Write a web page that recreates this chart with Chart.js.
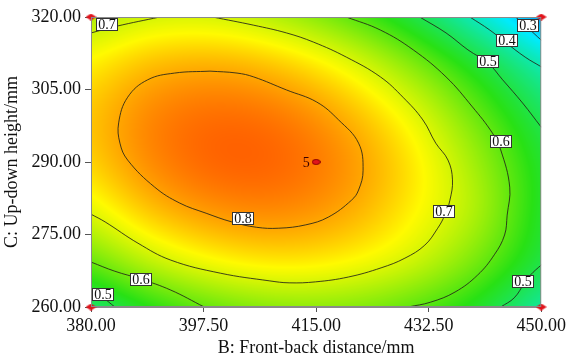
<!DOCTYPE html>
<html>
<head>
<meta charset="utf-8">
<script src="https://cdn.jsdelivr.net/npm/chart.js@4.4.1/dist/chart.umd.min.js"></script>
<style>
  body { margin: 0; background: #fff; }
</style>
</head>
<body>
<canvas id="surfaceCanvas" width="569" height="359"></canvas>
<script>
// response grid (B across, C up)
const bGrid = [380, 390, 400, 410, 420, 430, 440, 450];
const cGrid = [260, 270, 280, 290, 300, 310, 320];
const zRows = [
  [0.468, 0.556, 0.612, 0.638, 0.633, 0.598, 0.532, 0.420], // 260
  [0.613, 0.691, 0.737, 0.753, 0.738, 0.695, 0.618, 0.505], // 270
  [0.712, 0.781, 0.817, 0.823, 0.797, 0.740, 0.660, 0.530], // 280
  [0.767, 0.826, 0.854, 0.850, 0.814, 0.747, 0.649, 0.525], // 290
  [0.777, 0.827, 0.845, 0.832, 0.787, 0.711, 0.603, 0.482], // 300
  [0.743, 0.784, 0.793, 0.770, 0.716, 0.630, 0.520, 0.395], // 310
  [0.665, 0.699, 0.699, 0.664, 0.600, 0.506, 0.379, 0.235]  // 320
];

const xTicks = [380, 397.5, 415, 432.5, 450];
const yTicks = [260, 275, 290, 305, 320];

// contour lines, [B, C]
const c03 = [[446.0,320],[447.8,317.9],[450,315.2]];
const c04 = [[438.9,320],[442.0,317.3],[444.4,314.8],[447.5,311.7],[450,309.7]];
const c05top = [[431.1,320],[435.2,316.7],[438.6,313.2],[441.7,310.5],[444.0,307.0],[447.1,302.2],[450,297.2]];
const c05right = [[450,268.7],[448.3,266.6],[447.4,265.0],[445.8,261.9],[443.7,260]];
const c05left = [[380,263.5],[381.9,261.9],[383.7,260]];
const c06right = [[419.7,320],[425.0,317.3],[430.1,313.2],[435.2,307.6],[439.3,301.4],[442.4,296.0],[443.7,292.5],
  [445.1,284.8],[444.7,279.0],[444.3,274.9],[442.7,270.8],[440.1,266.6],[436.6,263.1],[432.8,261.0],[429.3,260]];
const c06left = [[380,269.3],[383.7,267.4],[387.7,265.8],[392.4,263.5],[397.6,260]];
const c07corner = [[380,316.7],[384.0,318.1],[390.7,320]];
const c07main = [[398.9,320],[405.3,318.3],[410.4,316.7],[414.6,314.8],[419.7,311.7],[425.0,307.6],[428.5,303.4],
  [431.6,298.7],[433.6,293.9],[435.5,290.4],[436.2,286.3],[435.8,282.1],[435.0,279.0],[433.9,276.3],[431.9,272.8],
  [428.8,270.1],[425.1,268.1],[420.0,266.2],[414.9,265.2],[410.8,265.0],[407.8,265.4],[400.1,267.0],[392.4,269.7],
  [387.3,273.2],[382.2,277.6],[380,279.2]];
const c08 = [[398.5,308.8],[402.7,308.4],[405.3,307.6],[410.4,304.9],[415.1,302.4],[418.5,298.7],[421.6,293.9],
  [422.3,288.3],[421.6,284.2],[420.5,282.1],[416.9,278.6],[413.4,277.0],[409.2,276.3],[405.7,276.5],[401.9,277.6],
  [397.9,279.4],[393.8,281.5],[389.9,284.8],[385.7,290.4],[384.5,293.9],[384.3,298.1],[385.7,303.4],[388.8,307.0],
  [393.0,308.4],[398.5,308.8]];
const contourLines = [c08, c07main, c07corner, c06right, c06left, c05top, c05right, c05left, c04, c03];

// contour labels
const labelText = ['0.7', '0.3', '0.4', '0.5', '0.6', '0.7', '0.5', '0.8', '0.6', '0.5'];
const labelB = [382.5, 448.0, 444.6, 441.7, 443.7, 434.9, 447.2, 403.6, 387.7, 381.9];
const labelC = [318.3, 318.1, 315.0, 310.7, 294.1, 279.7, 265.2, 278.2, 265.6, 262.5];

// design points
const cornerB = [380, 450, 380, 450];
const cornerC = [320, 320, 260, 260];
const centerB = [415];
const centerC = [290];
const centerCount = '5';

const colorStops = [
  [0.05, [0, 0, 255]],
  [0.32, [0, 235, 255]],
  [0.55, [40, 225, 20]],
  [0.735, [255, 250, 0]],
  [0.92, [255, 20, 0]]
];

function colorFor(z) {
  if (z <= colorStops[0][0]) return colorStops[0][1];
  for (let i = 1; i < colorStops.length; i++) {
    if (z <= colorStops[i][0]) {
      const [z0, a] = colorStops[i - 1], [z1, b] = colorStops[i];
      const t = (z - z0) / (z1 - z0);
      return [a[0] + (b[0] - a[0]) * t, a[1] + (b[1] - a[1]) * t, a[2] + (b[2] - a[2]) * t];
    }
  }
  return colorStops[colorStops.length - 1][1];
}

// grid value with straight extension past the edges
function zAt(i, j) {
  const nx = bGrid.length, ny = cGrid.length;
  if (i < 0) return 2 * zAt(0, j) - zAt(1, j);
  if (i > nx - 1) return 2 * zAt(nx - 1, j) - zAt(nx - 2, j);
  if (j < 0) return 2 * zAt(i, 0) - zAt(i, 1);
  if (j > ny - 1) return 2 * zAt(i, ny - 1) - zAt(i, ny - 2);
  return zRows[j][i];
}

function weights(t) {
  const t2 = t * t, t3 = t2 * t;
  return [(-t3 + 2 * t2 - t) / 2, (3 * t3 - 5 * t2 + 2) / 2, (-3 * t3 + 4 * t2 + t) / 2, (t3 - t2) / 2];
}

function smoothValue(gx, gy) {
  const i0 = Math.min(Math.floor(gx), bGrid.length - 2), j0 = Math.min(Math.floor(gy), cGrid.length - 2);
  const wx = weights(gx - i0), wy = weights(gy - j0);
  let z = 0;
  for (let m = 0; m < 4; m++) {
    let row = 0;
    for (let n = 0; n < 4; n++) row += wx[n] * zAt(i0 - 1 + n, j0 - 1 + m);
    z += wy[m] * row;
  }
  return z;
}

const heatmap = {
  id: 'heatmap',
  beforeDatasetsDraw(chart) {
    const { ctx, chartArea: a, scales: { x, y } } = chart;
    const w = Math.round(a.right - a.left), h = Math.round(a.bottom - a.top);
    const off = document.createElement('canvas');
    off.width = w; off.height = h;
    const octx = off.getContext('2d');
    const img = octx.createImageData(w, h);
    const db = bGrid[1] - bGrid[0], dc = cGrid[1] - cGrid[0];
    for (let py = 0; py < h; py++) {
      const gy = (y.getValueForPixel(a.top + py + 0.5) - cGrid[0]) / dc;
      for (let px = 0; px < w; px++) {
        const gx = (x.getValueForPixel(a.left + px + 0.5) - bGrid[0]) / db;
        const col = colorFor(smoothValue(gx, gy));
        const k = (py * w + px) * 4;
        img.data[k] = col[0]; img.data[k + 1] = col[1]; img.data[k + 2] = col[2]; img.data[k + 3] = 255;
      }
    }
    octx.putImageData(img, 0, 0);
    ctx.drawImage(off, a.left, a.top);
  },
  afterDraw(chart) {
    const { ctx, chartArea: a } = chart;
    ctx.save();
    ctx.strokeStyle = '#8a8a8a';
    ctx.lineWidth = 1;
    ctx.strokeRect(a.left + 0.5, a.top + 0.5, a.right - a.left - 1, a.bottom - a.top - 1);
    ctx.restore();
  }
};

const contourLabels = {
  id: 'contourLabels',
  afterDatasetDraw(chart, args) {
    if (args.index !== 0) return;
    const { ctx, scales: { x, y } } = chart;
    ctx.save();
    ctx.font = '14px "Liberation Serif", serif';
    ctx.textAlign = 'center';
    ctx.textBaseline = 'middle';
    labelText.forEach((t, i) => {
      const px = Math.round(x.getPixelForValue(labelB[i])), py = Math.round(y.getPixelForValue(labelC[i]));
      ctx.fillStyle = '#fff';
      ctx.fillRect(px - 11, py - 7, 22, 13);
      ctx.strokeStyle = '#333';
      ctx.lineWidth = 1;
      ctx.strokeRect(px - 10.5, py - 6.5, 21, 12);
      ctx.fillStyle = '#111';
      ctx.fillText(t, px, py + 0.5);
    });
    ctx.fillStyle = '#3a0000';
    ctx.fillText(centerCount, x.getPixelForValue(centerB[0]) - 10, y.getPixelForValue(centerC[0]) + 1);
    ctx.restore();
  }
};

function diamond(w, h, color) {
  const c = document.createElement('canvas');
  c.width = w; c.height = h;
  const g = c.getContext('2d');
  g.fillStyle = color;
  g.beginPath();
  g.moveTo(w / 2, 0); g.lineTo(w, h / 2); g.lineTo(w / 2, h); g.lineTo(0, h / 2);
  g.closePath();
  g.fill();
  return c;
}

function oval(w, h, color) {
  const c = document.createElement('canvas');
  c.width = w; c.height = h;
  const g = c.getContext('2d');
  g.fillStyle = color;
  g.strokeStyle = '#8a0000';
  g.beginPath();
  g.ellipse(w / 2, h / 2, w / 2 - 0.5, h / 2 - 0.5, 0, 0, Math.PI * 2);
  g.fill();
  g.stroke();
  return c;
}

const toPoints = arr => arr.map(p => ({ x: p[0], y: p[1] }));

const datasets = contourLines.map(line => ({
  data: toPoints(line),
  showLine: true,
  borderColor: 'rgba(35,35,25,0.85)',
  borderWidth: 1,
  pointRadius: 0,
  tension: 0.4,
  order: 1
}));
datasets.push({
  data: cornerB.map((b, i) => ({ x: b, y: cornerC[i] })),
  pointStyle: diamond(11, 7, '#e0141c'),
  pointRadius: 5,
  clip: false,
  order: 0
});
datasets.push({
  data: centerB.map((b, i) => ({ x: b, y: centerC[i] })),
  pointStyle: oval(9, 6, '#e0141c'),
  pointRadius: 4,
  clip: false,
  order: 0
});

Chart.defaults.font.family = '"Liberation Serif", "Times New Roman", serif';
Chart.defaults.color = '#111';

new Chart(document.getElementById('surfaceCanvas'), {
  type: 'scatter',
  data: { datasets },
  plugins: [heatmap, contourLabels],
  options: {
    responsive: false,
    animation: false,
    layout: { padding: { top: 17, right: 25, left: 0, bottom: 0 } },
    plugins: { legend: { display: false }, tooltip: { enabled: false } },
    scales: {
      x: {
        type: 'linear',
        min: xTicks[0],
        max: xTicks[xTicks.length - 1],
        afterBuildTicks: s => { s.ticks = xTicks.map(v => ({ value: v })); },
        afterFit: s => { s.height = 52; },
        ticks: { font: { size: 18 }, padding: 3, maxRotation: 0, callback: v => v.toFixed(2) },
        grid: { drawOnChartArea: false, tickLength: 5, color: '#555' },
        border: { color: '#8a8a8a' },
        title: { display: true, text: 'B: Front-back distance/mm', font: { size: 18 }, padding: { top: 0, bottom: 0 } }
      },
      y: {
        type: 'linear',
        min: yTicks[0],
        max: yTicks[yTicks.length - 1],
        afterBuildTicks: s => { s.ticks = yTicks.map(v => ({ value: v })); },
        afterFit: s => { s.width = 91; },
        ticks: { font: { size: 18 }, padding: 4, callback: v => v.toFixed(2) },
        grid: { drawOnChartArea: false, tickLength: 6, color: '#555' },
        border: { color: '#8a8a8a' },
        title: { display: true, text: 'C: Up-down height/mm', font: { size: 18 }, padding: { top: 1, bottom: 0 } }
      }
    }
  }
});
</script>
</body>
</html>
